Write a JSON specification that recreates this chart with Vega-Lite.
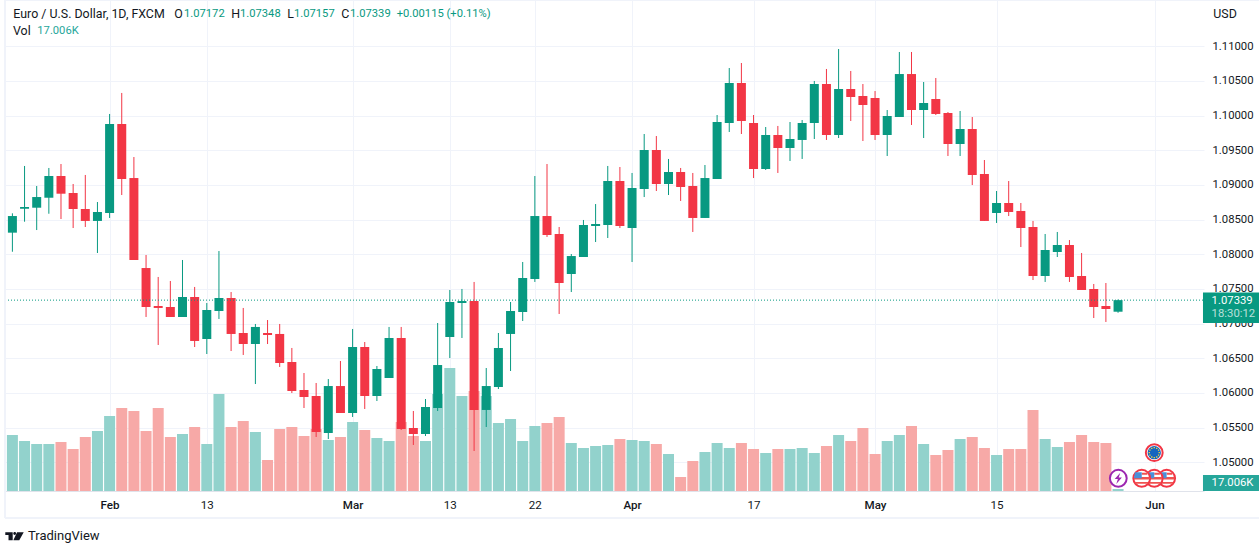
{"$schema":"https://vega.github.io/schema/vega-lite/v6.json","width":1199,"height":491,"autosize":"none","padding":{"left":5,"top":0,"right":55,"bottom":60},"background":"#ffffff","view":{"stroke":null},"config":{"text":{"font":"Roboto"},"axis":{"labelFont":"Roboto"}},
"datasets":{"bars":[
{"n":-1,"open":1.08,"high":1.08,"low":1.08,"close":1.08,"vol":603.5,"dir":"up"},
{"n":0,"open":1.08312,"high":1.08591,"low":1.08037,"close":1.08552,"vol":476,"dir":"up"},
{"n":1,"open":1.08657,"high":1.09274,"low":1.0847,"close":1.08682,"vol":425,"dir":"up"},
{"n":2,"open":1.08672,"high":1.08985,"low":1.0835,"close":1.08826,"vol":399.5,"dir":"up"},
{"n":3,"open":1.08816,"high":1.09245,"low":1.08585,"close":1.09129,"vol":399.5,"dir":"up"},
{"n":4,"open":1.09129,"high":1.09302,"low":1.08509,"close":1.08874,"vol":416.5,"dir":"down"},
{"n":5,"open":1.08884,"high":1.09014,"low":1.08379,"close":1.08653,"vol":357,"dir":"down"},
{"n":6,"open":1.08653,"high":1.09144,"low":1.08394,"close":1.08481,"vol":459,"dir":"down"},
{"n":7,"open":1.08481,"high":1.08754,"low":1.08019,"close":1.0861,"vol":510,"dir":"up"},
{"n":8,"open":1.08596,"high":1.10024,"low":1.08524,"close":1.09879,"vol":637.5,"dir":"up"},
{"n":9,"open":1.09879,"high":1.10327,"low":1.08855,"close":1.09086,"vol":705.5,"dir":"down"},
{"n":10,"open":1.091,"high":1.09403,"low":1.07918,"close":1.07918,"vol":680,"dir":"down"},
{"n":11,"open":1.07802,"high":1.0799,"low":1.07096,"close":1.0724,"vol":510,"dir":"down"},
{"n":12,"open":1.07254,"high":1.07673,"low":1.06692,"close":1.07226,"vol":705.5,"dir":"down"},
{"n":13,"open":1.0724,"high":1.07615,"low":1.07096,"close":1.07096,"vol":459,"dir":"down"},
{"n":14,"open":1.07096,"high":1.07918,"low":1.07096,"close":1.07384,"vol":484.5,"dir":"up"},
{"n":15,"open":1.07384,"high":1.07529,"low":1.06663,"close":1.0675,"vol":544,"dir":"down"},
{"n":16,"open":1.06778,"high":1.07298,"low":1.06562,"close":1.07197,"vol":399.5,"dir":"up"},
{"n":17,"open":1.07182,"high":1.08047,"low":1.07067,"close":1.0737,"vol":824.5,"dir":"up"},
{"n":18,"open":1.0737,"high":1.07456,"low":1.06605,"close":1.06851,"vol":544,"dir":"down"},
{"n":19,"open":1.06865,"high":1.07226,"low":1.06548,"close":1.06706,"vol":595,"dir":"down"},
{"n":20,"open":1.06706,"high":1.06995,"low":1.06129,"close":1.06952,"vol":501.5,"dir":"up"},
{"n":21,"open":1.06865,"high":1.07052,"low":1.06706,"close":1.06836,"vol":263.5,"dir":"down"},
{"n":22,"open":1.06851,"high":1.06995,"low":1.06375,"close":1.06432,"vol":527,"dir":"down"},
{"n":23,"open":1.06447,"high":1.06649,"low":1.05999,"close":1.06028,"vol":544,"dir":"down"},
{"n":24,"open":1.06043,"high":1.06288,"low":1.05783,"close":1.05942,"vol":467.5,"dir":"down"},
{"n":25,"open":1.05956,"high":1.06144,"low":1.05365,"close":1.05437,"vol":527,"dir":"down"},
{"n":26,"open":1.05423,"high":1.06201,"low":1.05336,"close":1.061,"vol":433.5,"dir":"up"},
{"n":27,"open":1.061,"high":1.06461,"low":1.05711,"close":1.05711,"vol":459,"dir":"down"},
{"n":28,"open":1.05711,"high":1.06923,"low":1.05654,"close":1.06663,"vol":586.5,"dir":"up"},
{"n":29,"open":1.06663,"high":1.06735,"low":1.05769,"close":1.05956,"vol":518.5,"dir":"down"},
{"n":30,"open":1.05956,"high":1.06389,"low":1.05884,"close":1.06346,"vol":450.5,"dir":"up"},
{"n":31,"open":1.06216,"high":1.06952,"low":1.06216,"close":1.06793,"vol":425,"dir":"up"},
{"n":32,"open":1.06793,"high":1.06952,"low":1.05466,"close":1.0548,"vol":586.5,"dir":"down"},
{"n":33,"open":1.05495,"high":1.0574,"low":1.0525,"close":1.05408,"vol":467.5,"dir":"down"},
{"n":34,"open":1.05408,"high":1.05913,"low":1.05379,"close":1.05798,"vol":425,"dir":"up"},
{"n":35,"open":1.05783,"high":1.07009,"low":1.0574,"close":1.06403,"vol":824.5,"dir":"up"},
{"n":36,"open":1.06807,"high":1.07485,"low":1.06504,"close":1.07312,"vol":1045.5,"dir":"up"},
{"n":37,"open":1.07298,"high":1.075,"low":1.06793,"close":1.07326,"vol":807.5,"dir":"up"},
{"n":38,"open":1.07326,"high":1.07601,"low":1.05163,"close":1.05755,"vol":850,"dir":"down"},
{"n":39,"open":1.05755,"high":1.0636,"low":1.05509,"close":1.061,"vol":807.5,"dir":"up"},
{"n":40,"open":1.06086,"high":1.06865,"low":1.06057,"close":1.06649,"vol":578,"dir":"up"},
{"n":41,"open":1.06851,"high":1.07312,"low":1.06317,"close":1.07182,"vol":612,"dir":"up"},
{"n":42,"open":1.07168,"high":1.07889,"low":1.07038,"close":1.07658,"vol":425,"dir":"up"},
{"n":43,"open":1.07644,"high":1.09129,"low":1.07601,"close":1.08552,"vol":552.5,"dir":"up"},
{"n":44,"open":1.08552,"high":1.09302,"low":1.0825,"close":1.08278,"vol":578,"dir":"down"},
{"n":45,"open":1.08293,"high":1.08394,"low":1.07139,"close":1.07586,"vol":629,"dir":"down"},
{"n":46,"open":1.07716,"high":1.08004,"low":1.07456,"close":1.07975,"vol":408,"dir":"up"},
{"n":47,"open":1.07961,"high":1.08495,"low":1.07961,"close":1.08423,"vol":365.5,"dir":"up"},
{"n":48,"open":1.08408,"high":1.08725,"low":1.08177,"close":1.08437,"vol":382.5,"dir":"up"},
{"n":49,"open":1.08423,"high":1.09274,"low":1.08235,"close":1.09057,"vol":391,"dir":"up"},
{"n":50,"open":1.09057,"high":1.09259,"low":1.08379,"close":1.08408,"vol":442,"dir":"down"},
{"n":51,"open":1.08379,"high":1.09173,"low":1.07889,"close":1.08956,"vol":433.5,"dir":"up"},
{"n":52,"open":1.08942,"high":1.09735,"low":1.08826,"close":1.09504,"vol":425,"dir":"up"},
{"n":53,"open":1.09504,"high":1.09706,"low":1.08913,"close":1.09014,"vol":399.5,"dir":"down"},
{"n":54,"open":1.09014,"high":1.09375,"low":1.08855,"close":1.09187,"vol":314.5,"dir":"up"},
{"n":55,"open":1.09187,"high":1.09245,"low":1.08769,"close":1.08971,"vol":119,"dir":"down"},
{"n":56,"open":1.08985,"high":1.09173,"low":1.08322,"close":1.08524,"vol":255,"dir":"down"},
{"n":57,"open":1.08524,"high":1.09288,"low":1.08524,"close":1.091,"vol":331.5,"dir":"up"},
{"n":58,"open":1.09086,"high":1.10009,"low":1.09086,"close":1.09908,"vol":408,"dir":"up"},
{"n":59,"open":1.09894,"high":1.10687,"low":1.09764,"close":1.10471,"vol":365.5,"dir":"up"},
{"n":60,"open":1.10471,"high":1.10759,"low":1.09735,"close":1.09923,"vol":408,"dir":"down"},
{"n":61,"open":1.09894,"high":1.10009,"low":1.091,"close":1.0923,"vol":357,"dir":"down"},
{"n":62,"open":1.0923,"high":1.09836,"low":1.09216,"close":1.09721,"vol":323,"dir":"up"},
{"n":63,"open":1.09721,"high":1.09851,"low":1.09173,"close":1.09533,"vol":357,"dir":"down"},
{"n":64,"open":1.09533,"high":1.09908,"low":1.09346,"close":1.09663,"vol":357,"dir":"up"},
{"n":65,"open":1.09649,"high":1.09937,"low":1.09375,"close":1.09894,"vol":365.5,"dir":"up"},
{"n":66,"open":1.09894,"high":1.105,"low":1.09663,"close":1.10456,"vol":323,"dir":"up"},
{"n":67,"open":1.10456,"high":1.10673,"low":1.09649,"close":1.09721,"vol":382.5,"dir":"down"},
{"n":68,"open":1.09721,"high":1.10961,"low":1.09677,"close":1.10384,"vol":476,"dir":"up"},
{"n":69,"open":1.10384,"high":1.10644,"low":1.09923,"close":1.10269,"vol":425,"dir":"down"},
{"n":70,"open":1.10283,"high":1.10456,"low":1.09634,"close":1.10153,"vol":535.5,"dir":"down"},
{"n":71,"open":1.10254,"high":1.10355,"low":1.09649,"close":1.09721,"vol":314.5,"dir":"down"},
{"n":72,"open":1.09721,"high":1.10081,"low":1.09418,"close":1.09995,"vol":425,"dir":"up"},
{"n":73,"open":1.0998,"high":1.10918,"low":1.0998,"close":1.106,"vol":476,"dir":"up"},
{"n":74,"open":1.106,"high":1.10918,"low":1.09865,"close":1.10081,"vol":552.5,"dir":"down"},
{"n":75,"open":1.10081,"high":1.10485,"low":1.09677,"close":1.10182,"vol":399.5,"dir":"up"},
{"n":76,"open":1.1024,"high":1.10543,"low":1.10009,"close":1.10024,"vol":306,"dir":"down"},
{"n":77,"open":1.10038,"high":1.10052,"low":1.09418,"close":1.09591,"vol":348.5,"dir":"down"},
{"n":78,"open":1.09591,"high":1.10067,"low":1.09418,"close":1.09807,"vol":442,"dir":"up"},
{"n":79,"open":1.09807,"high":1.0998,"low":1.08999,"close":1.09144,"vol":459,"dir":"down"},
{"n":80,"open":1.09158,"high":1.0936,"low":1.08481,"close":1.08481,"vol":365.5,"dir":"down"},
{"n":81,"open":1.08596,"high":1.08913,"low":1.08452,"close":1.0874,"vol":306,"dir":"up"},
{"n":82,"open":1.0874,"high":1.09057,"low":1.08552,"close":1.0861,"vol":357,"dir":"down"},
{"n":83,"open":1.08625,"high":1.0874,"low":1.08105,"close":1.08379,"vol":357,"dir":"down"},
{"n":84,"open":1.08394,"high":1.08481,"low":1.07629,"close":1.07687,"vol":688.5,"dir":"down"},
{"n":85,"open":1.07687,"high":1.08293,"low":1.07601,"close":1.08062,"vol":442,"dir":"up"},
{"n":86,"open":1.08033,"high":1.08322,"low":1.07961,"close":1.08134,"vol":374,"dir":"up"},
{"n":87,"open":1.08134,"high":1.08206,"low":1.07601,"close":1.07673,"vol":416.5,"dir":"down"},
{"n":88,"open":1.07687,"high":1.08019,"low":1.07485,"close":1.07485,"vol":476,"dir":"down"},
{"n":89,"open":1.075,"high":1.07572,"low":1.07081,"close":1.0724,"vol":416.5,"dir":"down"},
{"n":90,"open":1.07254,"high":1.07586,"low":1.07024,"close":1.07211,"vol":408,"dir":"down"},
{"n":91,"open":1.07172,"high":1.07348,"low":1.07157,"close":1.07339,"vol":17.006,"dir":"up"}
],
"chrome":[
{"part":"lastPrice","n":-0.609,"n2":97.99,"price":1.07339},
{"part":"priceTag","n":97.99,"n2":102.6,"price":1.074491,"price2":1.070091},
{"part":"volTag","n":97.99,"n2":102.6,"price":1.048169,"price2":1.045861},
{"part":"frameV","n":-0.609,"price":1.116678,"price2":1.041967},
{"part":"frameH","n":-0.609,"n2":102.6,"price":1.041967},
{"part":"frameH","n":-0.609,"n2":102.6,"price":1.116678}
],
"darkText":[
{"label":"Euro / U.S. Dollar, 1D, FXCM","n":0.074,"price":1.114587},
{"label":"O","n":13.325,"price":1.114587},
{"label":"H","n":18.016,"price":1.114587},
{"label":"L","n":22.626,"price":1.114587},
{"label":"C","n":27.07,"price":1.114587},
{"label":"Vol","n":0.05,"price":1.112135},
{"label":"USD","n":98.84,"price":1.114702}
],
"greenText":[
{"label":"1.07172","n":14.123,"price":1.114587},
{"label":"1.07348","n":18.733,"price":1.114587},
{"label":"1.07157","n":23.177,"price":1.114587},
{"label":"1.07339","n":27.786,"price":1.114587},
{"label":"+0.00115 (+0.11%)","n":31.63,"price":1.114587}
],
"tagText":[
{"label":"1.07339","n":98.7,"price":1.073336},
{"label":"17.006K","n":98.7,"price":1.047016}
]},
"encoding":{"x":{"field":"n","type":"quantitative","title":null,"scale":{"domain":[-0.609,98.074],"nice":false,"zero":false,"padding":0},"axis":{"title":null,"values":[8,16,28,36,43,51,61,71,81,94],"labelExpr":"{8:'Feb',16:'13',28:'Mar',36:'13',43:'22',51:'Apr',61:'17',71:'May',81:'15',94:'Jun'}[datum.value]","grid":true,"gridColor":"#f0f3fa","gridWidth":1,"ticks":false,"domainColor":"#e0e3eb","domainWidth":1,"labelColor":"#131722","labelFontSize":11.6,"labelPadding":8,"labelFontWeight":{"condition":{"test":"datum.value==8||datum.value==28||datum.value==51||datum.value==71||datum.value==94","value":500},"value":400},"labelFlush":false,"labelOverlap":false}}},
"layer":[
{"data":{"values":[{"n":0,"tick":1.08}]},"mark":{"type":"rule","opacity":0},"encoding":{"y":{"field":"tick","type":"quantitative","scale":{"domain":[1.045861,1.116678],"nice":false,"zero":false},"axis":{"orient":"right","title":null,"values":[1.05,1.055,1.06,1.065,1.07,1.075,1.08,1.085,1.09,1.095,1.1,1.105,1.11],"format":".5f","grid":true,"gridColor":"#f0f3fa","gridWidth":1,"ticks":false,"domain":false,"labelColor":"#131722","labelFontSize":11.3,"labelPadding":8,"labelFlush":false,"labelOverlap":false}}}},
{"data":{"name":"bars"},"mark":{"type":"bar","orient":"vertical","size":11,"clip":true},"encoding":{"y":{"field":"vol","type":"quantitative","stack":null,"scale":{"domain":[0,4173.5],"nice":false},"axis":null},"color":{"field":"dir","type":"nominal","scale":{"domain":["up","down"],"range":["#92d2cc","#f7a9a7"]},"legend":null}}},
{"data":{"name":"bars"},"transform":[{"filter":"datum.n>=0"}],"mark":{"type":"rule","strokeWidth":1},"encoding":{"y":{"field":"high","type":"quantitative","scale":{"domain":[1.045861,1.116678],"nice":false,"zero":false},"axis":null},"y2":{"field":"low"},"color":{"field":"dir","type":"nominal","scale":{"domain":["up","down"],"range":["#089981","#f23645"]},"legend":null}}},
{"data":{"name":"bars"},"transform":[{"filter":"datum.n>=0"}],"mark":{"type":"bar","orient":"vertical","size":9},"encoding":{"y":{"field":"open","type":"quantitative","scale":{"domain":[1.045861,1.116678],"nice":false,"zero":false},"axis":null},"y2":{"field":"close"},"color":{"field":"dir","type":"nominal","scale":{"domain":["up","down"],"range":["#089981","#f23645"]},"legend":null}}},
{"data":{"name":"chrome"},"transform":[{"filter":"datum.part=='lastPrice'"}],"mark":{"type":"rule","color":"#089981","strokeWidth":1,"strokeDash":[1,2]},"encoding":{"x2":{"field":"n2"},"y":{"field":"price","type":"quantitative","scale":{"domain":[1.045861,1.116678],"nice":false,"zero":false},"axis":null}}},
{"data":{"name":"chrome"},"transform":[{"filter":"datum.part=='priceTag'"}],"mark":{"type":"rect","color":"#089981"},"encoding":{"x2":{"field":"n2"},"y":{"field":"price","type":"quantitative","scale":{"domain":[1.045861,1.116678],"nice":false,"zero":false},"axis":null},"y2":{"field":"price2"}}},
{"data":{"name":"chrome"},"transform":[{"filter":"datum.part=='volTag'"}],"mark":{"type":"rect","color":"#26a69a"},"encoding":{"x2":{"field":"n2"},"y":{"field":"price","type":"quantitative","scale":{"domain":[1.045861,1.116678],"nice":false,"zero":false},"axis":null},"y2":{"field":"price2"}}},
{"data":{"name":"chrome"},"transform":[{"filter":"datum.part=='frameV'"}],"mark":{"type":"rule","color":"#f0f3fa","strokeWidth":2},"encoding":{"y":{"field":"price","type":"quantitative","scale":{"domain":[1.045861,1.116678],"nice":false,"zero":false},"axis":null},"y2":{"field":"price2"}}},
{"data":{"name":"chrome"},"transform":[{"filter":"datum.part=='frameH'"}],"mark":{"type":"rule","color":"#f0f3fa","strokeWidth":2},"encoding":{"x2":{"field":"n2"},"y":{"field":"price","type":"quantitative","scale":{"domain":[1.045861,1.116678],"nice":false,"zero":false},"axis":null}}},
{"data":{"name":"darkText"},"mark":{"type":"text","align":"left","baseline":"middle","fontSize":12.4,"color":"#131722"},"encoding":{"y":{"field":"price","type":"quantitative","scale":{"domain":[1.045861,1.116678],"nice":false,"zero":false},"axis":null},"text":{"field":"label"}}},
{"data":{"name":"greenText"},"mark":{"type":"text","align":"left","baseline":"middle","fontSize":11.2,"color":"#089981"},"encoding":{"y":{"field":"price","type":"quantitative","scale":{"domain":[1.045861,1.116678],"nice":false,"zero":false},"axis":null},"text":{"field":"label"}}},
{"data":{"values":[{"label":"17.006K","n":2.05,"price":1.112135}]},"mark":{"type":"text","align":"left","baseline":"middle","fontSize":11.2,"color":"#26a69a"},"encoding":{"y":{"field":"price","type":"quantitative","scale":{"domain":[1.045861,1.116678],"nice":false,"zero":false},"axis":null},"text":{"field":"label"}}},
{"data":{"name":"tagText"},"mark":{"type":"text","align":"left","baseline":"middle","fontSize":11.3,"color":"#ffffff"},"encoding":{"y":{"field":"price","type":"quantitative","scale":{"domain":[1.045861,1.116678],"nice":false,"zero":false},"axis":null},"text":{"field":"label"}}},
{"data":{"values":[{"label":"18:30:12","n":98.7,"price":1.07139}]},"mark":{"type":"text","align":"left","baseline":"middle","fontSize":11.3,"color":"#ffffff","opacity":0.7},"encoding":{"y":{"field":"price","type":"quantitative","scale":{"domain":[1.045861,1.116678],"nice":false,"zero":false},"axis":null},"text":{"field":"label"}}},
{"data":{"values":[{"label":"TradingView","n":1.284,"price":1.039299}]},"mark":{"type":"text","align":"left","baseline":"middle","fontSize":13,"color":"#131722"},"encoding":{"y":{"field":"price","type":"quantitative","scale":{"domain":[1.045861,1.116678],"nice":false,"zero":false},"axis":null},"text":{"field":"label"}}},
{"data":{"values":[{"n":0.173,"price":1.039329}]},"mark":{"type":"point","filled":true,"opacity":1,"color":"#131722","size":361,"shape":"M-0.97,-0.42 H-0.19 V0.42 H-0.63 V-0.14 H-0.97Z M-0.13,-0.29 A0.15,0.15 0 1 1 0.17,-0.29 A0.15,0.15 0 1 1 -0.13,-0.29Z M0.27,-0.42 H0.97 L0.5,0.42 H-0.12 Z"},"encoding":{"y":{"field":"price","type":"quantitative","scale":{"domain":[1.045861,1.116678],"nice":false,"zero":false},"axis":null}}},
{"data":{"values":[{"n":93.98,"price":1.051386}]},"mark":{"type":"point","filled":true,"opacity":1,"fill":"#ffffff","stroke":"#f23645","strokeWidth":2,"size":283},"encoding":{"y":{"field":"price","type":"quantitative","scale":{"domain":[1.045861,1.116678],"nice":false,"zero":false},"axis":null}}},
{"data":{"values":[{"n":93.98,"price":1.051386}]},"mark":{"type":"point","filled":true,"opacity":1,"color":"#1565c0","size":177},"encoding":{"y":{"field":"price","type":"quantitative","scale":{"domain":[1.045861,1.116678],"nice":false,"zero":false},"axis":null}}},
{"data":{"values":[{"n":93.98,"price":1.051386}]},"mark":{"type":"point","filled":true,"opacity":1,"color":"#fdd835","size":256,"shape":"M-0.08,-0.7h.16v.16h-.16z M0.23,-0.62h.16v.16h-.16z M0.46,-0.39h.16v.16h-.16z M0.54,-0.08h.16v.16h-.16z M0.46,0.23h.16v.16h-.16z M0.23,0.46h.16v.16h-.16z M-0.08,0.54h.16v.16h-.16z M-0.39,0.46h.16v.16h-.16z M-0.62,0.23h.16v.16h-.16z M-0.7,-0.08h.16v.16h-.16z M-0.62,-0.39h.16v.16h-.16z M-0.39,-0.62h.16v.16h-.16z"},"encoding":{"y":{"field":"price","type":"quantitative","scale":{"domain":[1.045861,1.116678],"nice":false,"zero":false},"axis":null}}},
{"data":{"values":[{"n":95.0,"price":1.047695}]},"mark":{"type":"point","filled":true,"opacity":1,"fill":"#ffffff","stroke":"#f23645","strokeWidth":2,"size":283},"encoding":{"y":{"field":"price","type":"quantitative","scale":{"domain":[1.045861,1.116678],"nice":false,"zero":false},"axis":null}}},
{"data":{"values":[{"n":95.0,"price":1.047695}]},"mark":{"type":"point","filled":true,"opacity":1,"color":"#ef5350","size":256,"shape":"M-0.97,-0.15 H0.97 V0.15 H-0.97Z M-0.8,0.45 H0.8 V0.68 H-0.8Z M0,-0.7 H0.7V-0.45H0Z"},"encoding":{"y":{"field":"price","type":"quantitative","scale":{"domain":[1.045861,1.116678],"nice":false,"zero":false},"axis":null}}},
{"data":{"values":[{"n":95.0,"price":1.047695}]},"mark":{"type":"point","filled":true,"opacity":1,"color":"#4a90d9","size":256,"shape":"M-0.85,-0.75 H0 V0 H-0.97Z"},"encoding":{"y":{"field":"price","type":"quantitative","scale":{"domain":[1.045861,1.116678],"nice":false,"zero":false},"axis":null}}},
{"data":{"values":[{"n":93.98,"price":1.047695}]},"mark":{"type":"point","filled":true,"opacity":1,"fill":"#ffffff","stroke":"#f23645","strokeWidth":2,"size":283},"encoding":{"y":{"field":"price","type":"quantitative","scale":{"domain":[1.045861,1.116678],"nice":false,"zero":false},"axis":null}}},
{"data":{"values":[{"n":93.98,"price":1.047695}]},"mark":{"type":"point","filled":true,"opacity":1,"color":"#ef5350","size":256,"shape":"M-0.97,-0.15 H0.97 V0.15 H-0.97Z M-0.8,0.45 H0.8 V0.68 H-0.8Z M0,-0.7 H0.7V-0.45H0Z"},"encoding":{"y":{"field":"price","type":"quantitative","scale":{"domain":[1.045861,1.116678],"nice":false,"zero":false},"axis":null}}},
{"data":{"values":[{"n":93.98,"price":1.047695}]},"mark":{"type":"point","filled":true,"opacity":1,"color":"#4a90d9","size":256,"shape":"M-0.85,-0.75 H0 V0 H-0.97Z"},"encoding":{"y":{"field":"price","type":"quantitative","scale":{"domain":[1.045861,1.116678],"nice":false,"zero":false},"axis":null}}},
{"data":{"values":[{"n":92.95,"price":1.047695}]},"mark":{"type":"point","filled":true,"opacity":1,"fill":"#ffffff","stroke":"#f23645","strokeWidth":2,"size":283},"encoding":{"y":{"field":"price","type":"quantitative","scale":{"domain":[1.045861,1.116678],"nice":false,"zero":false},"axis":null}}},
{"data":{"values":[{"n":92.95,"price":1.047695}]},"mark":{"type":"point","filled":true,"opacity":1,"color":"#ef5350","size":256,"shape":"M-0.97,-0.15 H0.97 V0.15 H-0.97Z M-0.8,0.45 H0.8 V0.68 H-0.8Z M0,-0.7 H0.7V-0.45H0Z"},"encoding":{"y":{"field":"price","type":"quantitative","scale":{"domain":[1.045861,1.116678],"nice":false,"zero":false},"axis":null}}},
{"data":{"values":[{"n":92.95,"price":1.047695}]},"mark":{"type":"point","filled":true,"opacity":1,"color":"#4a90d9","size":256,"shape":"M-0.85,-0.75 H0 V0 H-0.97Z"},"encoding":{"y":{"field":"price","type":"quantitative","scale":{"domain":[1.045861,1.116678],"nice":false,"zero":false},"axis":null}}},
{"data":{"values":[{"n":91.02,"price":1.047695}]},"mark":{"type":"point","filled":true,"opacity":1,"fill":"#ffffff","stroke":"#9c27b0","strokeWidth":2,"size":283},"encoding":{"y":{"field":"price","type":"quantitative","scale":{"domain":[1.045861,1.116678],"nice":false,"zero":false},"axis":null}}},
{"data":{"values":[{"n":91.02,"price":1.047695}]},"mark":{"type":"point","filled":true,"opacity":1,"color":"#9c27b0","size":256,"shape":"M0.25,-0.7 L-0.45,0.1 L-0.05,0.1 L-0.25,0.7 L0.45,-0.1 L0.05,-0.1Z"},"encoding":{"y":{"field":"price","type":"quantitative","scale":{"domain":[1.045861,1.116678],"nice":false,"zero":false},"axis":null}}}
],
"resolve":{"scale":{"y":"independent","color":"independent"},"axis":{"y":"independent"}}}
